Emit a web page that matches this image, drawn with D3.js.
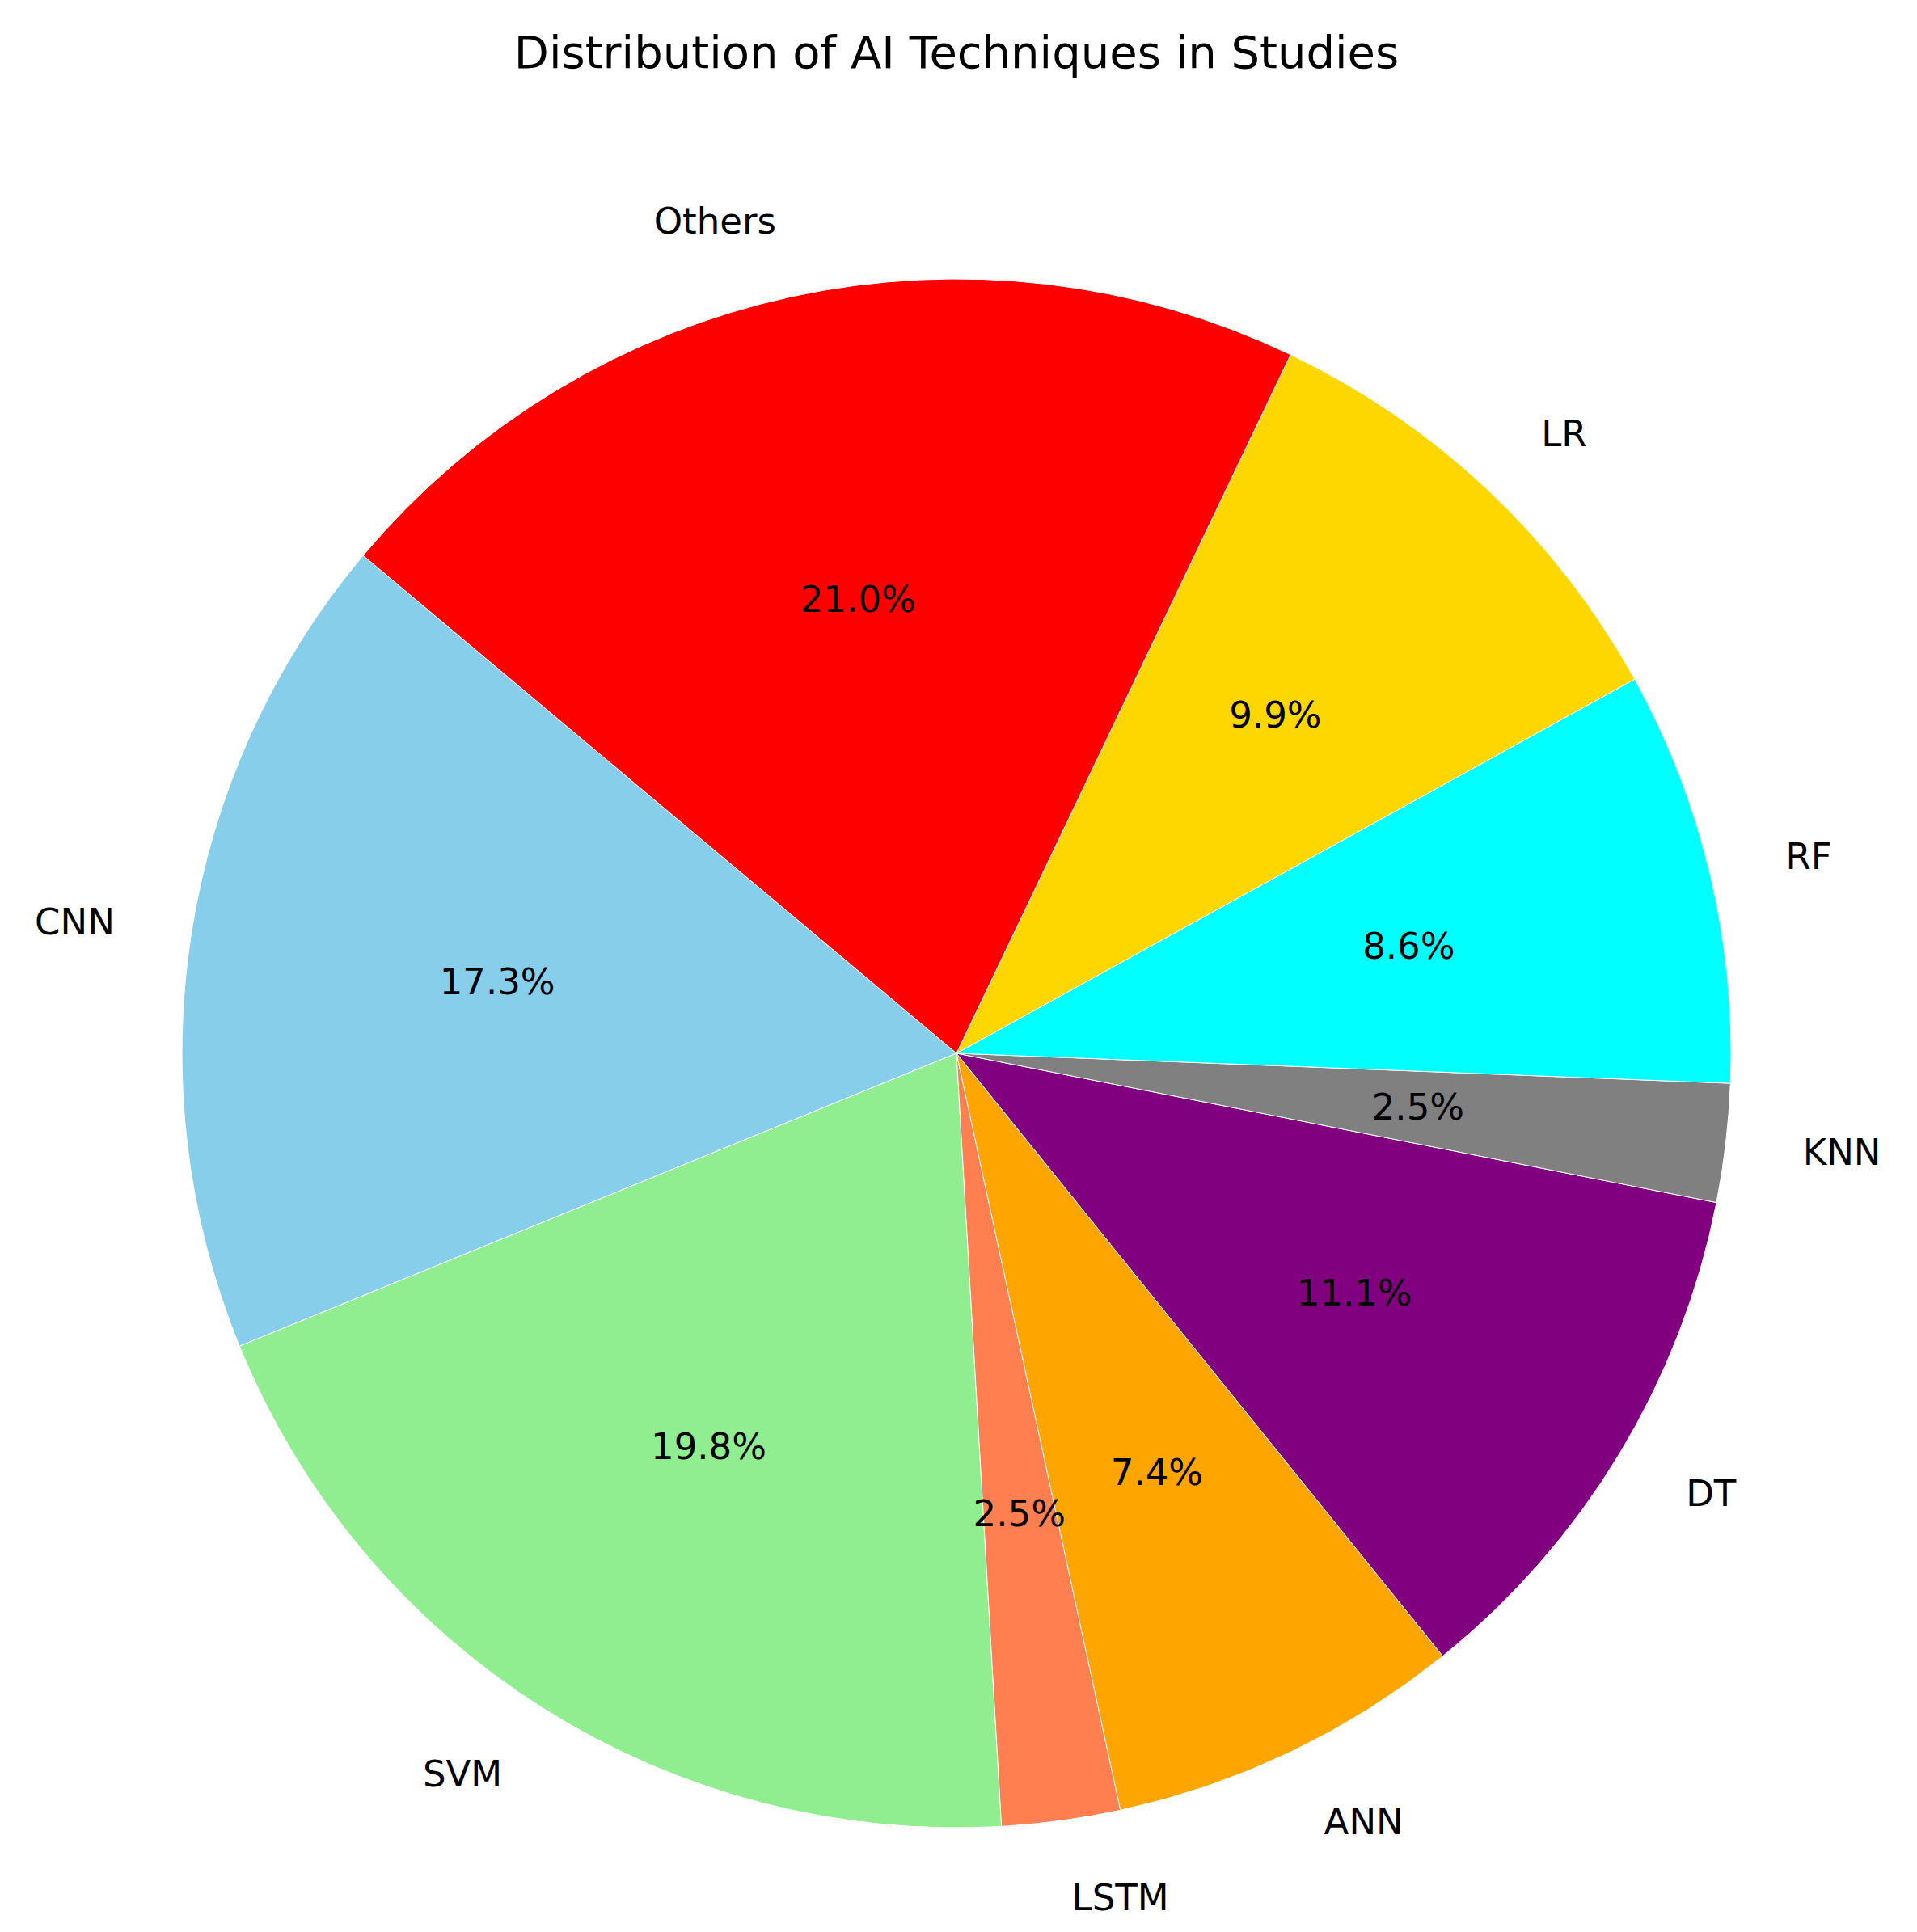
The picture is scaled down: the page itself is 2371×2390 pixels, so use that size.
<!DOCTYPE html>
<html><head><meta charset="utf-8">
<script src="https://cdn.jsdelivr.net/npm/d3@7"></script>
<style>body{margin:0;background:#fff}</style></head>
<body><svg id="c" width="2371" height="2390"></svg>
<script>
const categories = ["CNN","SVM","LSTM","ANN","DT","KNN","RF","LR","Others"];
const counts = [14,16,2,6,9,2,7,8,17];
const colors = ["skyblue","lightgreen","coral","orange","purple","gray","cyan","gold","red"];
const title = "Distribution of AI Techniques in Studies";

const svg = d3.select("#c");
const cx = 1183, cy = 1303, r = 958;
const font = "DejaVu Sans, sans-serif";
const total = d3.sum(counts);
const startDeg = 140;
const pie = d3.pie().sort(null).value(d=>d)
  .startAngle((90-startDeg)*Math.PI/180)
  .endAngle((90-startDeg-360)*Math.PI/180);
const arcs = pie(counts);
const arc = d3.arc().innerRadius(0).outerRadius(r);
const g = svg.append("g").attr("transform",`translate(${cx},${cy})`);
g.selectAll("path").data(arcs).join("path")
  .attr("d",arc).attr("fill",(d,i)=>colors[i]).attr("stroke","#fff").attr("stroke-width",1);
arcs.forEach((d,i)=>{
  const a=(d.startAngle+d.endAngle)/2;
  const x=Math.sin(a), y=-Math.cos(a);
  g.append("text").attr("x",x*r*1.1).attr("y",y*r*1.1)
    .attr("text-anchor",x>0?"start":"end").attr("dominant-baseline","central")
    .attr("font-family",font).attr("font-size",45).text(categories[i]);
  g.append("text").attr("x",x*r*0.6).attr("y",y*r*0.6)
    .attr("text-anchor","middle").attr("dominant-baseline","central")
    .attr("font-family",font).attr("font-size",45)
    .text((counts[i]/total*100).toFixed(1)+"%");
});
svg.append("text").attr("x",cx).attr("y",64).attr("text-anchor","middle")
  .attr("dominant-baseline","central").attr("font-family",font).attr("font-size",56).text(title);
</script></body></html>
